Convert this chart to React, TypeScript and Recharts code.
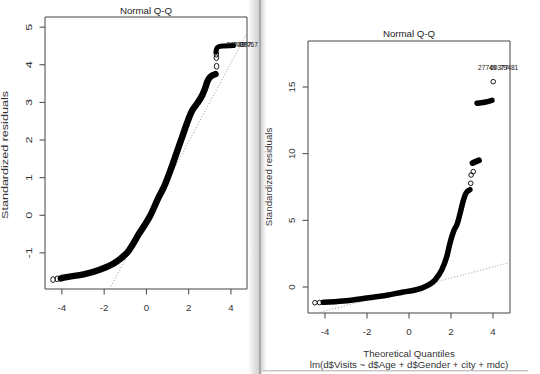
import React from 'react';
import { ComposedChart, Line, Scatter, XAxis, YAxis, ReferenceArea } from 'recharts';

const FONT = '"Liberation Sans", Arial, Helvetica, sans-serif';
const FS = 9.7;

// ---- shared ----
const xTicks = [-4, -2, 0, 2, 4];

// ---- left panel ----
const leftXDomain = [-4.8, 4.76];
const leftYDomain = [-1.96, 5.27];
const leftYTicks = [-1, 0, 1, 2, 3, 4, 5];
const leftBandMain = [
  { x: -4.05, y: -1.68 }, { x: -3.92, y: -1.66 }, { x: -2.97, y: -1.57 },
  { x: -2.18, y: -1.44 }, { x: -1.55, y: -1.28 }, { x: -1.2, y: -1.14 },
  { x: -0.92, y: -1.0 }, { x: -0.36, y: -0.5 }, { x: 0.19, y: 0.0 },
  { x: 0.58, y: 0.48 }, { x: 0.82, y: 0.74 }, { x: 1.14, y: 1.2 },
  { x: 1.69, y: 2.08 }, { x: 2.17, y: 2.79 }, { x: 2.4, y: 2.97 },
  { x: 2.64, y: 3.19 }, { x: 2.8, y: 3.41 }, { x: 2.88, y: 3.55 },
  { x: 3.03, y: 3.68 }, { x: 3.27, y: 3.75 },
];
const leftBandTop = [
  { x: 3.29, y: 4.34 }, { x: 3.34, y: 4.45 }, { x: 3.5, y: 4.49 }, { x: 4.12, y: 4.51 },
];
const leftCircles = [
  { x: -4.42, y: -1.71 }, { x: -4.22, y: -1.69 }, { x: 3.32, y: 3.96 },
  { x: 3.31, y: 4.19 }, { x: 3.31, y: 4.28 },
];
const leftQQLine = [{ x: -1.75, y: -1.96 }, { x: 4.76, y: 4.84 }];
const leftLabels = [
  { x: 3.79, y: 4.53, label: '27749' },
  { x: 4.1, y: 4.53, label: '60397' },
  { x: 4.41, y: 4.53, label: '97767' },
];

// ---- right panel ----
const rightXDomain = [-4.81, 4.81];
const rightYDomain = [-1.95, 18.45];
const rightYTicks = [0, 5, 10, 15];
const rightBandMain = [
  { x: -4.08, y: -1.15 }, { x: -3.13, y: -1.05 }, { x: -2.01, y: -0.83 },
  { x: -1.06, y: -0.62 }, { x: -0.27, y: -0.38 }, { x: 0.05, y: -0.3 },
  { x: 0.68, y: -0.03 }, { x: 1.24, y: 0.53 }, { x: 1.56, y: 1.28 },
  { x: 1.8, y: 2.28 }, { x: 1.95, y: 3.28 }, { x: 2.13, y: 4.2 },
  { x: 2.3, y: 4.75 }, { x: 2.43, y: 5.5 }, { x: 2.59, y: 6.5 },
  { x: 2.72, y: 7.05 }, { x: 2.9, y: 7.3 },
];
const rightBandMid = [{ x: 3.03, y: 9.3 }, { x: 3.33, y: 9.5 }];
const rightBandHigh = [{ x: 3.24, y: 13.78 }, { x: 3.6, y: 13.86 }, { x: 3.95, y: 14.0 }];
const rightCircles = [
  { x: -4.48, y: -1.18 }, { x: -4.26, y: -1.17 }, { x: 2.94, y: 7.78 },
  { x: 2.96, y: 8.4 }, { x: 3.06, y: 8.65 }, { x: 4.01, y: 15.4 },
];
const rightQQLine = [{ x: -4.35, y: -1.95 }, { x: 4.81, y: 1.84 }];
const rightLabels = [
  { x: 3.29, y: 16.43, label: '27749' },
  { x: 3.86, y: 16.43, label: '60377' },
  { x: 4.33, y: 16.43, label: '79481' },
];

const charW = (s: string) =>
  [...s].reduce((a, c) => a + (c === '-' ? 0.333 : 0.556), 0) * FS;

const XTick = (props: any) => {
  const { x, y, payload } = props;
  return (
    <text x={x} y={y + 11} textAnchor="middle" dominantBaseline="central"
      fontSize={FS} fontFamily={FONT} fill="#333">{payload.value}</text>
  );
};

const makeYTick = (stretch: number) => (props: any) => {
  const { x, y, payload } = props;
  const cx = x - 9;
  const s = String(payload.value);
  return (
    <text x={cx} y={y} transform={`rotate(-90 ${cx} ${y})`} textAnchor="middle"
      dominantBaseline="central" fontSize={FS} fontFamily={FONT} fill="#333"
      textLength={charW(s) * stretch} lengthAdjust="spacingAndGlyphs">{s}</text>
  );
};

const circleShape = (ry: number) => (props: any) => (
  <ellipse cx={props.cx} cy={props.cy} rx={2.3} ry={ry} fill="none" stroke="#000" strokeWidth={0.9} />
);

const labelShape = (props: any) => (
  <text x={props.cx} y={props.cy} dominantBaseline="central" fontSize={6.6}
    fontFamily={FONT} fill="#111">{props.payload.label}</text>
);

const LeftTick = makeYTick(1.3);
const RightTick = makeYTick(1);

export default function App() {
  return (
    <div style={{ position: 'absolute', left: 0, top: 0, width: 540, height: 374, background: '#fff', overflow: 'hidden' }}>
      <svg width={540} height={374} style={{ position: 'absolute', left: 0, top: 0 }}>
        <defs>
          <linearGradient id="shade" x1="0" x2="1" y1="0" y2="0">
            <stop offset="0" stopColor="#ffffff" />
            <stop offset="1" stopColor="#cfcfcf" />
          </linearGradient>
          <linearGradient id="shade2" x1="0" x2="1" y1="0" y2="0">
            <stop offset="0" stopColor="#d8d8d8" />
            <stop offset="1" stopColor="#ffffff" />
          </linearGradient>
        </defs>
        <rect x={248} y={0} width={11} height={374} fill="url(#shade)" />
        <rect x={259} y={0} width={2.5} height={374} fill="#a9a9a9" />
        <rect x={261.5} y={0} width={5} height={371} fill="url(#shade2)" />
        <rect x={262} y={370} width={266} height={1.5} fill="#c8c8c8" />

        {/* left panel texts */}
        <text x={146} y={14} textAnchor="middle" fontSize={FS} fontFamily={FONT} fill="#222">Normal Q-Q</text>
        <text transform="rotate(-90)" x={-155} y={8} textAnchor="middle" fontSize={FS}
          fontFamily={FONT} fill="#333" textLength={128} lengthAdjust="spacingAndGlyphs">Standardized residuals</text>

        {/* right panel texts */}
        <text x={409} y={36.5} textAnchor="middle" fontSize={FS} fontFamily={FONT} fill="#222">Normal Q-Q</text>
        <text transform="rotate(-90)" x={-177} y={272} textAnchor="middle" fontSize={FS}
          fontFamily={FONT} fill="#333">Standardized residuals</text>
        <text x={409} y={357} textAnchor="middle" fontSize={FS} fontFamily={FONT} fill="#333">Theoretical Quantiles</text>
        <text x={409} y={368} textAnchor="middle" fontSize={FS} fontFamily={FONT} fill="#333">lm(d$Visits ~ d$Age + d$Gender + city + mdc)</text>
      </svg>

      <div style={{ position: 'absolute', left: 0, top: 0 }}>
        <ComposedChart width={258} height={374} margin={{ top: 17, right: 11, bottom: 55, left: 15 }}>
          <XAxis dataKey="x" type="number" domain={leftXDomain} ticks={xTicks} interval={0}
            axisLine={false} tickSize={5.5} tickMargin={2} tickLine={{ stroke: '#444' }} tick={<XTick />} height={30} />
          <YAxis dataKey="y" type="number" domain={leftYDomain} ticks={leftYTicks} interval={0}
            axisLine={false} tickSize={5.5} tickMargin={2} tickLine={{ stroke: '#444' }} tick={<LeftTick />} width={30} />
          <ReferenceArea x1={leftXDomain[0]} x2={leftXDomain[1]} y1={leftYDomain[0]} y2={leftYDomain[1]}
            fill="none" fillOpacity={0} stroke="#444" strokeWidth={1} strokeOpacity={1} ifOverflow="visible" />
          <Line data={leftQQLine} dataKey="y" type="linear" stroke="#9a9a9a" strokeWidth={1}
            strokeDasharray="1 2" dot={false} isAnimationActive={false} />
          <Line data={leftBandMain} dataKey="y" type="monotone" stroke="#000" strokeWidth={6.5}
            strokeLinecap="round" strokeLinejoin="round" dot={false} isAnimationActive={false} />
          <Line data={leftBandTop} dataKey="y" type="monotone" stroke="#000" strokeWidth={5}
            strokeLinecap="round" strokeLinejoin="round" dot={false} isAnimationActive={false} />
          <Scatter data={leftCircles} shape={circleShape(2.9)} isAnimationActive={false} />
          <Scatter data={leftLabels} shape={labelShape} isAnimationActive={false} />
        </ComposedChart>
      </div>

      <div style={{ position: 'absolute', left: 262, top: 0 }}>
        <ComposedChart width={278} height={374} margin={{ top: 41, right: 30, bottom: 31, left: 16 }}>
          <XAxis dataKey="x" type="number" domain={rightXDomain} ticks={xTicks} interval={0}
            axisLine={false} tickSize={5.5} tickMargin={2} tickLine={{ stroke: '#444' }} tick={<XTick />} height={30} />
          <YAxis dataKey="y" type="number" domain={rightYDomain} ticks={rightYTicks} interval={0}
            axisLine={false} tickSize={5.5} tickMargin={2} tickLine={{ stroke: '#444' }} tick={<RightTick />} width={30} />
          <ReferenceArea x1={rightXDomain[0]} x2={rightXDomain[1]} y1={rightYDomain[0]} y2={rightYDomain[1]}
            fill="none" fillOpacity={0} stroke="#444" strokeWidth={1} strokeOpacity={1} ifOverflow="visible" />
          <Line data={rightQQLine} dataKey="y" type="linear" stroke="#9a9a9a" strokeWidth={1}
            strokeDasharray="1 2" dot={false} isAnimationActive={false} />
          <Line data={rightBandMain} dataKey="y" type="monotone" stroke="#000" strokeWidth={5.5}
            strokeLinecap="round" strokeLinejoin="round" dot={false} isAnimationActive={false} />
          <Line data={rightBandMid} dataKey="y" type="linear" stroke="#000" strokeWidth={6}
            strokeLinecap="round" strokeLinejoin="round" dot={false} isAnimationActive={false} />
          <Line data={rightBandHigh} dataKey="y" type="monotone" stroke="#000" strokeWidth={5.5}
            strokeLinecap="round" strokeLinejoin="round" dot={false} isAnimationActive={false} />
          <Scatter data={rightCircles} shape={circleShape(2.3)} isAnimationActive={false} />
          <Scatter data={rightLabels} shape={labelShape} isAnimationActive={false} />
        </ComposedChart>
      </div>
    </div>
  );
}
